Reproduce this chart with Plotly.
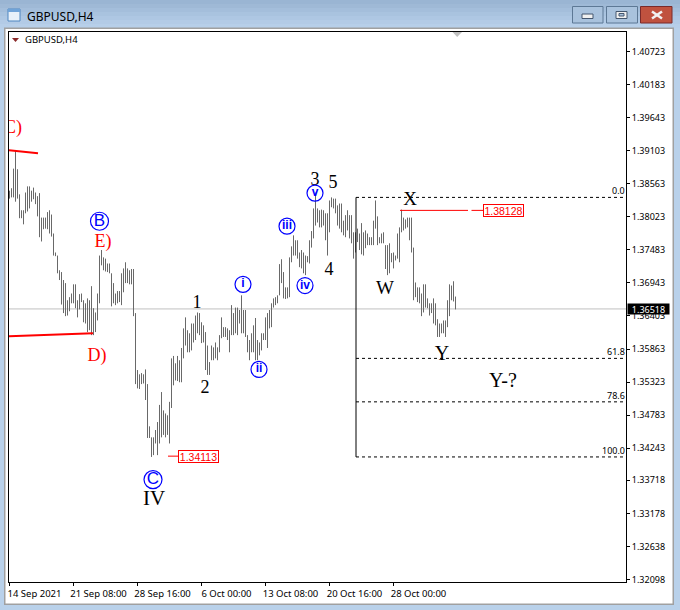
import plotly.graph_objects as go

# ---------- data ----------
highs = [
1.3845,1.3849,1.3881,1.3911,1.3880,1.3839,1.3813,1.3813,1.3842,1.3852,1.3852,1.3845,1.3850,1.3842,1.3836,1.3841,
1.3801,1.3801,1.3801,1.3810,1.3813,1.3806,1.3775,1.3744,1.3739,1.3715,1.3712,1.3699,1.3694,1.3666,1.3671,1.3677,
1.3692,1.3692,1.3666,1.3676,1.3677,1.3666,1.3661,1.3669,1.3666,1.3689,1.3653,1.3646,1.3677,1.3739,1.3748,1.3736,
1.3734,1.3726,1.3726,1.3710,1.3694,1.3677,1.3681,1.3681,1.3710,1.3718,1.3728,1.3718,1.3715,1.3717,1.3717,1.3645,
1.3552,1.3545,1.3547,1.3545,1.3553,1.3529,1.3460,1.3442,1.3442,1.3454,1.3467,1.3495,1.3516,1.3486,1.3481,1.3478,
1.3500,1.3571,1.3575,1.3563,1.3575,1.3568,1.3588,1.3620,1.3638,1.3617,1.3612,1.3628,1.3628,1.3641,1.3646,1.3645,
1.3630,1.3625,1.3614,1.3592,1.3565,1.3592,1.3589,1.3597,1.3589,1.3609,1.3638,1.3622,1.3622,1.3620,1.3617,1.3658,
1.3645,1.3654,1.3654,1.3650,1.3674,1.3650,1.3650,1.3609,1.3601,1.3612,1.3625,1.3637,1.3601,1.3597,1.3612,1.3612,
1.3638,1.3645,1.3650,1.3661,1.3669,1.3671,1.3674,1.3725,1.3733,1.3712,1.3687,1.3687,1.3736,1.3754,1.3772,1.3764,
1.3764,1.3744,1.3748,1.3744,1.3739,1.3738,1.3764,1.3779,1.3816,1.3842,1.3816,1.3813,1.3814,1.3813,1.3808,1.3808,
1.3829,1.3834,1.3832,1.3832,1.3821,1.3824,1.3824,1.3796,1.3805,1.3813,1.3805,1.3805,1.3777,1.3777,1.3783,1.3775,
1.3792,1.3777,1.3780,1.3775,1.3769,1.3769,1.3796,1.3829,1.3803,1.3769,1.3775,1.3777,1.3756,1.3756,1.3759,1.3743,
1.3744,1.3739,1.3775,1.3785,1.3814,1.3801,1.3798,1.3801,1.3801,1.3801,1.3752,1.3695,1.3687,1.3687,1.3677,1.3692,
1.3692,1.3669,1.3661,1.3661,1.3669,1.3661,1.3635,1.3628,1.3628,1.3633,1.3633,1.3666,1.3692,1.3690,1.3697,1.3672,
]
lows = [
1.3832,1.3834,1.3834,1.3827,1.3832,1.3800,1.3800,1.3790,1.3808,1.3811,1.3816,1.3827,1.3831,1.3823,1.3803,1.3769,
1.3762,1.3782,1.3783,1.3782,1.3775,1.3770,1.3739,1.3738,1.3710,1.3699,1.3659,1.3645,1.3640,1.3641,1.3648,1.3661,
1.3661,1.3653,1.3638,1.3651,1.3663,1.3630,1.3628,1.3614,1.3617,1.3609,1.3609,1.3614,1.3633,1.3661,1.3723,1.3715,
1.3713,1.3712,1.3710,1.3656,1.3661,1.3658,1.3661,1.3663,1.3658,1.3679,1.3694,1.3694,1.3692,1.3692,1.3640,1.3529,
1.3522,1.3521,1.3529,1.3530,1.3503,1.3441,1.3441,1.3410,1.3413,1.3432,1.3413,1.3432,1.3442,1.3446,1.3442,1.3446,
1.3432,1.3490,1.3527,1.3535,1.3534,1.3532,1.3532,1.3571,1.3592,1.3581,1.3581,1.3584,1.3597,1.3601,1.3612,1.3609,
1.3596,1.3597,1.3552,1.3544,1.3544,1.3568,1.3568,1.3571,1.3568,1.3581,1.3604,1.3606,1.3606,1.3601,1.3581,1.3609,
1.3609,1.3612,1.3609,1.3628,1.3612,1.3612,1.3606,1.3581,1.3568,1.3581,1.3581,1.3568,1.3568,1.3576,1.3584,1.3601,
1.3601,1.3588,1.3620,1.3622,1.3654,1.3658,1.3661,1.3674,1.3694,1.3669,1.3668,1.3669,1.3671,1.3728,1.3739,1.3739,
1.3734,1.3720,1.3718,1.3710,1.3707,1.3728,1.3726,1.3752,1.3767,1.3788,1.3793,1.3785,1.3785,1.3788,1.3764,1.3739,
1.3777,1.3818,1.3816,1.3808,1.3788,1.3783,1.3777,1.3772,1.3769,1.3780,1.3767,1.3759,1.3734,1.3744,1.3761,1.3748,
1.3741,1.3739,1.3751,1.3756,1.3756,1.3756,1.3756,1.3783,1.3756,1.3759,1.3759,1.3759,1.3717,1.3707,1.3710,1.3728,
1.3718,1.3731,1.3734,1.3728,1.3777,1.3780,1.3783,1.3785,1.3764,1.3744,1.3666,1.3671,1.3663,1.3661,1.3640,1.3646,
1.3654,1.3653,1.3641,1.3645,1.3628,1.3625,1.3606,1.3606,1.3612,1.3612,1.3606,1.3622,1.3640,1.3666,1.3664,1.3651,
]
bar_index = list(range(len(highs)))

y_tick_values = [1.40723,1.40183,1.39643,1.39103,1.38563,1.38023,1.37483,1.36943,1.36403,
                 1.35863,1.35323,1.34783,1.34243,1.33718,1.33178,1.32638,1.32098]
x_tick_bars = [0,32,64,96,128,160,192]
x_tick_labels = ["14 Sep 2021","21 Sep 08:00","28 Sep 16:00","6 Oct 00:00",
                 "13 Oct 08:00","20 Oct 16:00","28 Oct 00:00"]

current_price = 1.36518
fib_start_bar = 173.25
fib_names = ["0.0","61.8","78.6","100.0"]
fib_prices = [1.3834,1.3571,1.3500,1.3410]

high_marker_segments = [[195.25,229.25],[231,236.75]]
high_marker_price = 1.38128
high_box_bar = 246.75
low_marker_bars = [79.25,84.5]
low_marker_price = 1.34113
low_box_bar = 94.6

trend_top_bars = [-0.25,14.25]
trend_top_prices = [1.3911,1.3906]
trend_low_bars = [-0.25,41.75]
trend_low_prices = [1.3607,1.3612]

plain_text = ["C)","E)","D)","1","2","3","5","4","X","W","Y","Y-?","IV"]
plain_bars = [1.75,46.75,43.75,93.75,97.75,152.75,161.75,159.75,200.25,187.75,216.25,246.75,72.25]
plain_prices = [1.3946,1.3761,1.3574,1.3661,1.3521,1.3862,1.3857,1.3715,1.3830,1.3684,1.3576,1.3532,1.3340]
plain_colors = ["#ff0000"]*3 + ["#000000"]*10
plain_sizes = [18,18,18,18,18,18,18,18,19,19,20,20,21]

big_circle_text = ["B","C"]
big_circle_bars = [45,71.75]
big_circle_prices = [1.3795,1.3373]
small_circle_text = ["i","ii","iii","iv","v"]
small_circle_bars = [116.75,124.75,138.75,147.75,152.75]
small_circle_prices = [1.3692,1.3553,1.3787,1.3690,1.3841]

# ---------- layout constants ----------
W, H = 680, 610
L, R, T, B = 9, 54, 32, 28
def PX(x): return (x - L) / (W - L - R)
def PY(y): return (H - B - y) / (H - T - B)
SANS = "Noto Sans"
SERIF = "Liberation Serif"

fig = go.Figure()

# current-price line
fig.add_trace(go.Scatter(x=[-0.25,308.25], y=[current_price]*2, mode="lines",
                         line=dict(color="#c0c0c0", width=1), hoverinfo="skip"))

# bars
bx, by = [], []
for i, hi, lo in zip(bar_index, highs, lows):
    bx += [i, i, None]; by += [hi, lo, None]
fig.add_trace(go.Scatter(x=bx, y=by, mode="lines", line=dict(color="#696969", width=1), hoverinfo="skip"))

# thick red trend segments
for xs, ys in ((trend_top_bars, trend_top_prices), (trend_low_bars, trend_low_prices)):
    fig.add_trace(go.Scatter(x=xs, y=ys, mode="lines", line=dict(color="#ff0000", width=2), hoverinfo="skip"))

# red price markers
for xs in high_marker_segments:
    fig.add_trace(go.Scatter(x=xs, y=[high_marker_price]*2, mode="lines", line=dict(color="#ff0000", width=1), hoverinfo="skip"))
fig.add_trace(go.Scatter(x=low_marker_bars, y=[low_marker_price]*2, mode="lines", line=dict(color="#ff0000", width=1), hoverinfo="skip"))

# fibonacci
for p in fib_prices:
    fig.add_trace(go.Scatter(x=[fib_start_bar,308.25], y=[p,p], mode="lines",
                             line=dict(color="#000000", width=1, dash="3px,3px"), hoverinfo="skip"))
fig.add_trace(go.Scatter(x=[fib_start_bar]*2, y=[fib_prices[0],fib_prices[-1]], mode="lines",
                         line=dict(color="#000000", width=1), hoverinfo="skip"))

# wave labels
fig.add_trace(go.Scatter(x=plain_bars, y=plain_prices, text=plain_text, mode="text",
                         textposition="middle center", cliponaxis=True, hoverinfo="skip",
                         textfont=dict(family=SERIF, size=plain_sizes, color=plain_colors)))
for xs, ys, ts, ms, fs, wt in ((big_circle_bars, big_circle_prices, big_circle_text, 18, 17, "normal"),
                               (small_circle_bars, small_circle_prices, small_circle_text, 16, 12, "bold")):
    fig.add_trace(go.Scatter(x=xs, y=ys, text=ts, mode="markers+text", textposition="middle center",
                             marker=dict(symbol="circle-open", size=ms, color="#0000ff", line=dict(width=1.2, color="#0000ff")),
                             textfont=dict(family="Liberation Sans", size=fs, color="#0000ff", weight=wt), hoverinfo="skip"))

# ---------- window chrome ----------
shapes = []
def rect(x0, y0, x1, y1, fill, line=None, layer="below"):
    shapes.append(dict(type="rect", xref="paper", yref="paper", x0=PX(x0), x1=PX(x1), y0=PY(y1), y1=PY(y0),
                       fillcolor=fill, line=dict(color=line or fill, width=1 if line else 0), layer=layer))
bands = ["#9ab5d3","#9fb9d6","#a4bedb","#a9c3df","#aec7e3","#b3cbe6","#b7cfe9"]
for i, c in enumerate(bands):
    rect(0, i*4, W, (i+1)*4, c)
rect(0, 28, W, H, "#b9d1ea")
rect(4, 27.5, 674, 605, "#a0a0a0")
rect(5.5, 29, 672.5, 603.5, "#ffffff")
rect(572.5, 6.5, 603, 23, "#a9c2dd", "#5d7895", "above")
rect(606.5, 6.5, 637.5, 23, "#a9c2dd", "#5d7895", "above")
rect(640.5, 6.5, 672, 23, "#c0523f", "#7a2a2a", "above")
rect(582, 14, 593, 18.5, "#f0f0f0", "#44566e", "above")
rect(616, 11.5, 627, 18.5, "#f0f0f0", "#44566e", "above")
rect(619, 13.5, 624, 16, "#a9c2dd", "#44566e", "above")
# close icon
for a, b in (((652,11.5),(662,18.5)),((652,18.5),(662,11.5))):
    shapes.append(dict(type="line", xref="paper", yref="paper", x0=PX(a[0]), y0=PY(a[1]), x1=PX(b[0]), y1=PY(b[1]),
                       line=dict(color="#f2f2f2", width=2.5), layer="above"))
# title icon
rect(8, 9, 20, 21, "#e8f1fa", "#4f86c0", "above")
rect(8, 9, 20, 12, "#6fa3d8", None, "above")
# chart triangles
shapes.append(dict(type="path", xref="paper", yref="paper", layer="above", line=dict(width=0), fillcolor="#c0c0c0",
                   path=f"M{PX(452.5)},{PY(32)} L{PX(462)},{PY(32)} L{PX(457.2)},{PY(37)} Z"))
shapes.append(dict(type="path", xref="paper", yref="paper", layer="above", line=dict(width=0), fillcolor="#8b2a2a",
                   path=f"M{PX(12)},{PY(38)} L{PX(19)},{PY(38)} L{PX(15.5)},{PY(42)} Z"))

# ---------- annotations ----------
ann = []
def paper_text(x, y, text, size, color="#000000", family=SANS, anchor="left"):
    ann.append(dict(xref="paper", yref="paper", x=PX(x), y=PY(y), text=text, showarrow=False, xanchor=anchor,
                    yanchor="middle", font=dict(family=family, size=size, color=color)))
paper_text(25, 16, "GBPUSD,H4", 12)
paper_text(22.5, 39.5, "GBPUSD,H4", 9.5)
for name, p in zip(fib_names, fib_prices):
    ann.append(dict(xref="paper", yref="y", x=PX(626), y=p, text=name, showarrow=False, xanchor="right",
                    yanchor="bottom", yshift=-1, font=dict(family=SANS, size=9, color="#000000"), borderpad=0))
# price boxes
for bar, p in ((high_box_bar, high_marker_price), (low_box_bar, low_marker_price)):
    ann.append(dict(xref="x", yref="y", x=bar, y=p, text=f"{p:.5f}", showarrow=False,
                    xanchor="center", yanchor="middle", width=39, height=11, bgcolor="#ffffff", bordercolor="#ff0000",
                    borderwidth=1, borderpad=0, font=dict(family="Liberation Sans", size=10.5, color="#ff0000")))
ann.append(dict(xref="paper", yref="y", x=PX(648.5), y=current_price, text=f"{current_price:.5f}", showarrow=False,
                xanchor="center", yanchor="middle", width=41, height=10, bgcolor="#000000", borderpad=0,
                font=dict(family=SANS, size=9, color="#ffffff")))

fig.update_layout(
    width=W, height=H, autosize=False,
    margin=dict(l=L, r=R, t=T, b=B),
    paper_bgcolor="#b9d1ea", plot_bgcolor="#ffffff",
    showlegend=False, hovermode=False, shapes=shapes, annotations=ann,
    xaxis=dict(range=[-0.25,308.25], showgrid=False, zeroline=False, showline=True, mirror=True,
               linecolor="#000000", linewidth=1, ticks="outside", ticklen=3, tickwidth=1, tickcolor="#000000",
               tickvals=x_tick_bars, ticktext=x_tick_labels, ticklabelshift=25, ticklabelstandoff=0,
               tickfont=dict(family=SANS, size=9.5, color="#000000"), fixedrange=True),
    yaxis=dict(range=[1.32057,1.41042], side="right", showgrid=False, zeroline=False, showline=True, mirror=True,
               linecolor="#000000", linewidth=1, ticks="outside", ticklen=3, tickwidth=1, tickcolor="#000000",
               tickvals=y_tick_values, ticktext=[f"{v:.5f}" for v in y_tick_values],
               tickfont=dict(family=SANS, size=9, color="#000000"), fixedrange=True),
)
fig.write_html("out.html", config=dict(displayModeBar=False),
               post_script="document.body.style.margin='0';document.documentElement.style.overflow='hidden';")
